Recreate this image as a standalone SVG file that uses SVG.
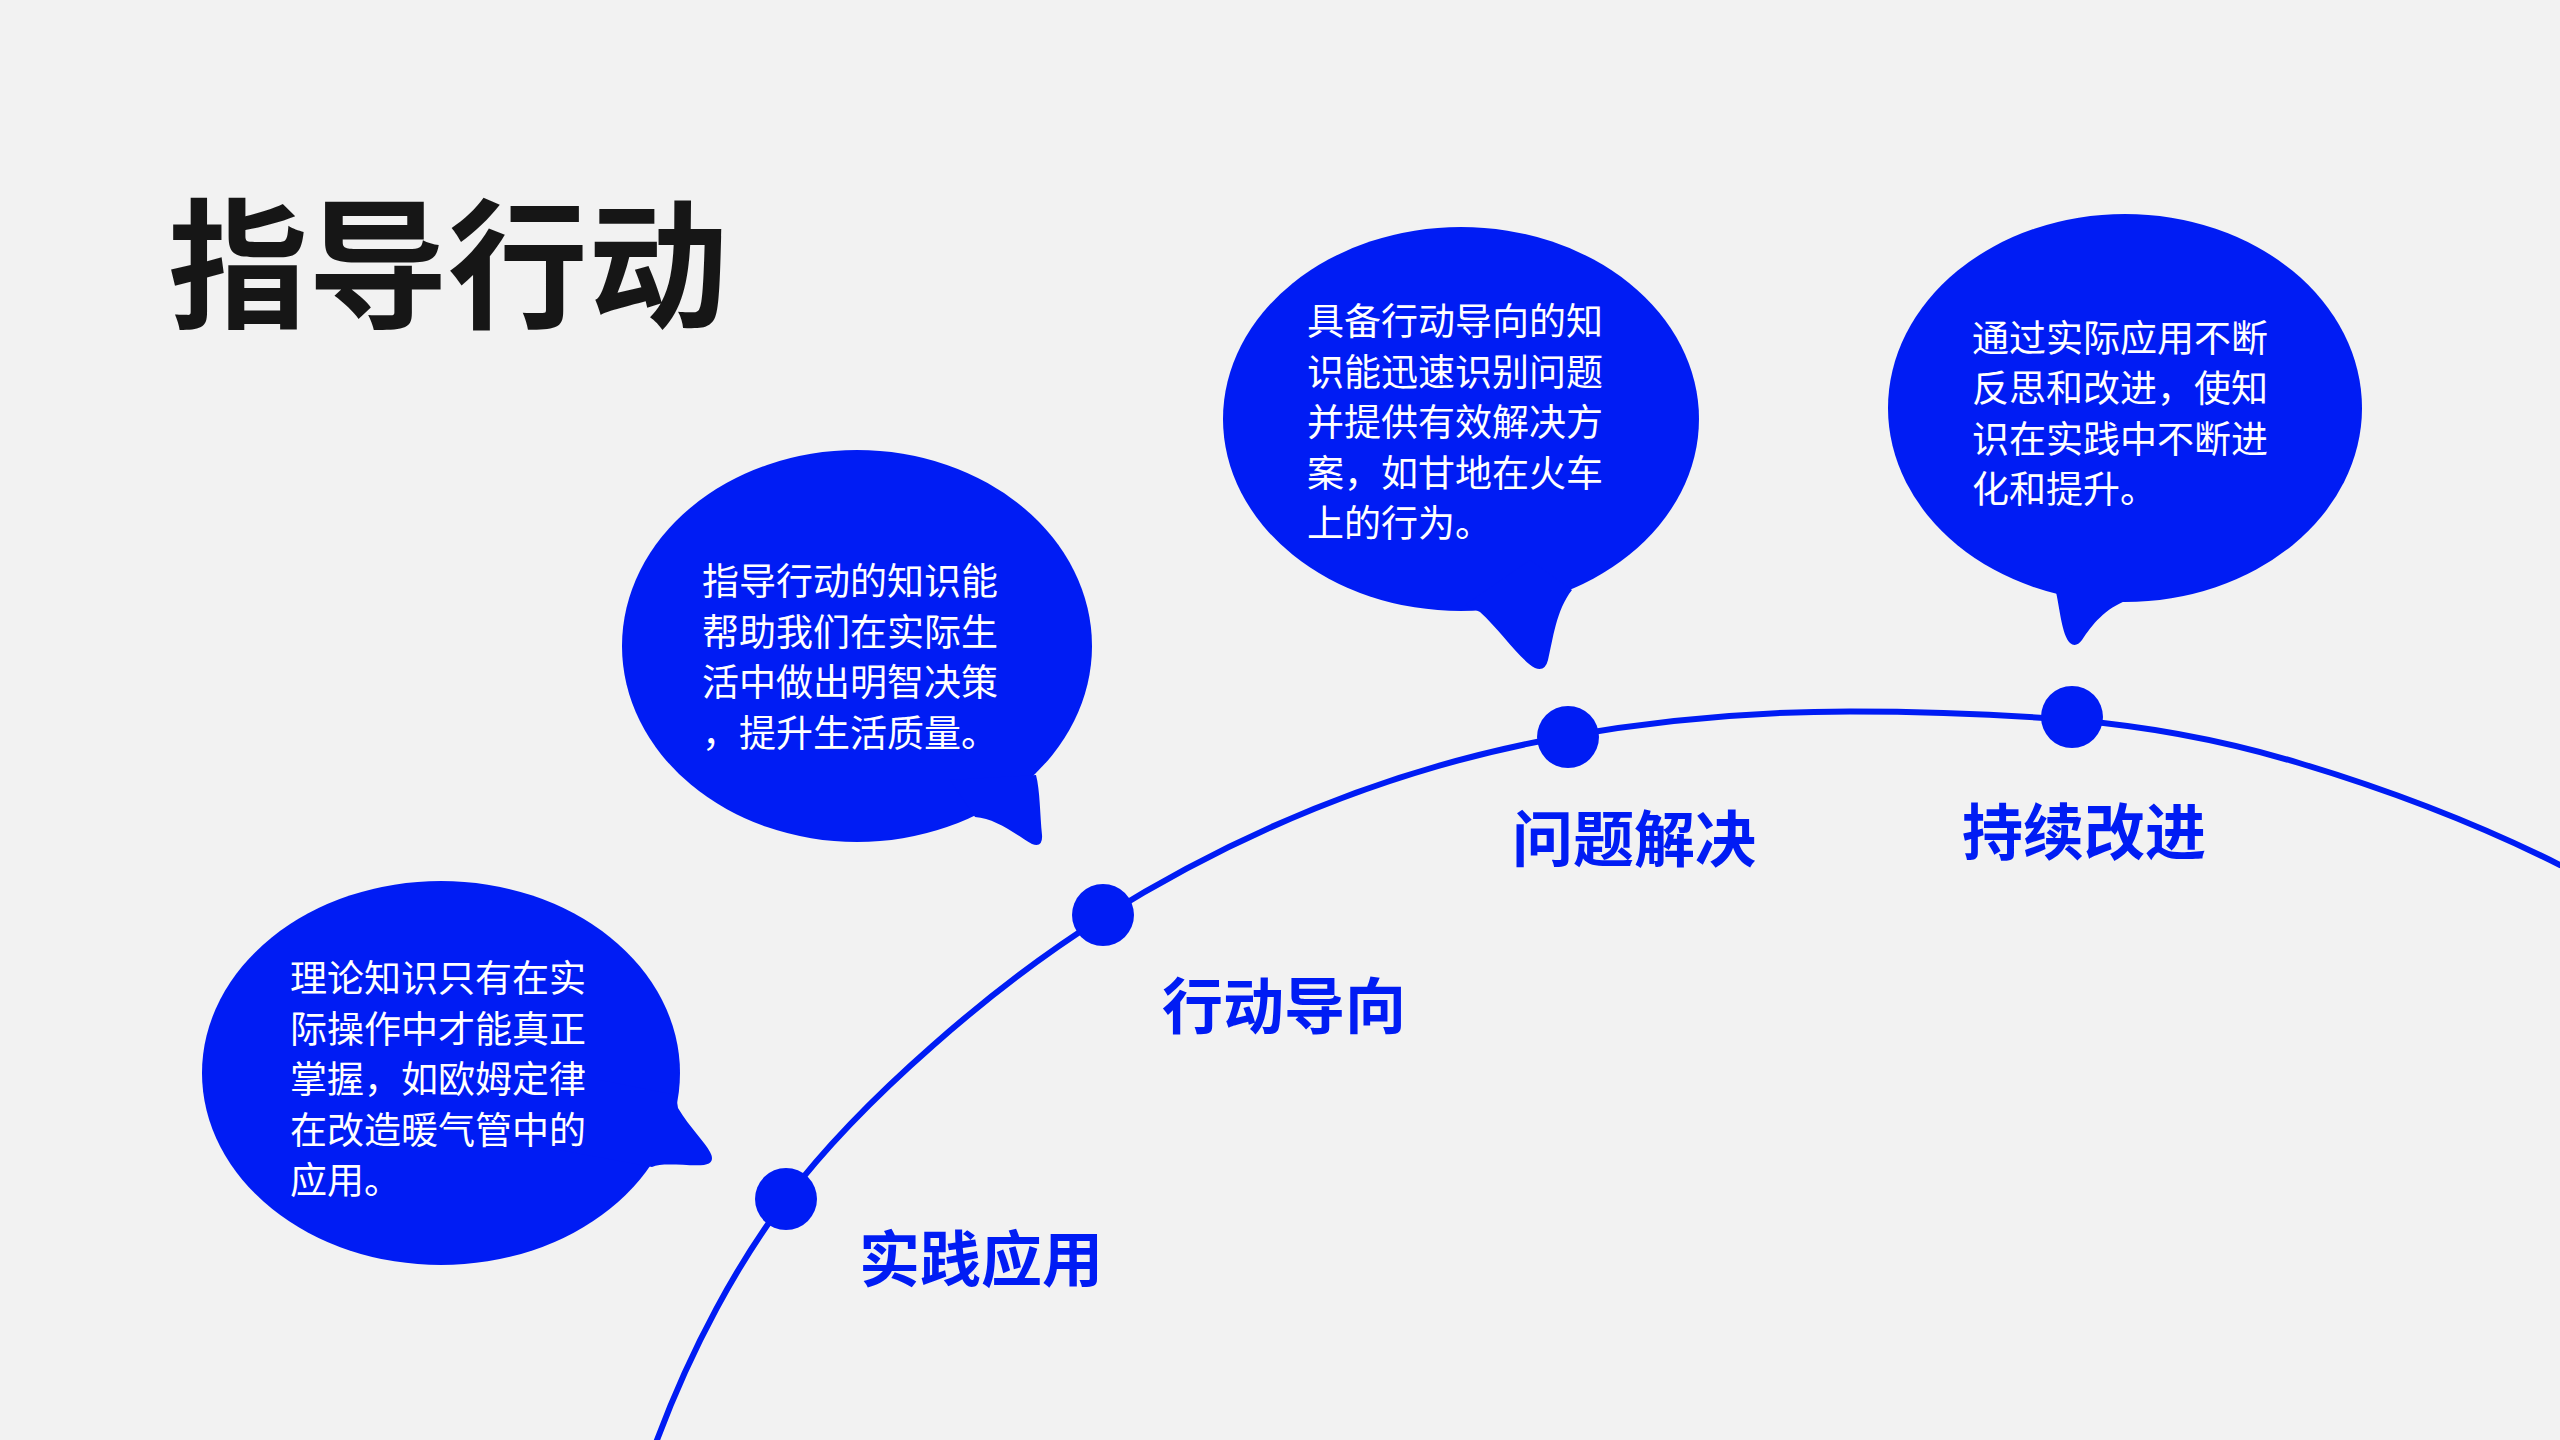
<svg xmlns="http://www.w3.org/2000/svg" width="2560" height="1440" viewBox="0 0 2560 1440">
  <style>
    .bg { fill: #F2F2F2; }
    .blue { fill: #001CF4; }
    .title { font-family: "Noto Sans CJK SC", "Noto Sans", sans-serif; font-size: 140px; font-weight: 700; fill: #161616; }
    .label { font-family: "Noto Sans CJK SC", "Noto Sans", sans-serif; font-size: 61px; font-weight: 700; fill: #001CF4; }
    .body { font-family: "Noto Sans CJK SC", "Noto Sans", sans-serif; font-size: 37px; font-weight: 400; fill: #FFFFFF; }
    .curve { fill: none; stroke: #001CF4; stroke-width: 6; }
  </style>
  <rect class="bg" x="0" y="0" width="2560" height="1440"/>

  <text class="title" x="168" y="317">指导行动</text>

  <g id="connectors">
    <path class="curve" d="M 650 1459 L 657 1440 C 692 1346.3, 737.9 1262.9, 786 1199 C 861.2 1099.2, 997 983.2, 1103 917 C 1258 820.1, 1413 763.1, 1568 736 C 1662 719.55, 1756 711.5, 1850 711.5 C 1923.7 711.5, 1997.3 714.1, 2071 720 C 2147 726.1, 2223 740.2, 2299 763 C 2386 789.1, 2473 821.5, 2560 865 L 2620 895"/>
  </g>

  <g id="node-shijian">
    <ellipse class="blue" cx="441" cy="1073" rx="239" ry="192"/>
    <path class="blue" d="M 676 1095 L 678 1108 C 690 1128, 705 1142, 710 1152 Q 716 1163, 704 1165 C 685 1166, 662 1162, 652 1167 L 560 1150 L 600 1080 Z"/>
    <text class="body">
      <tspan x="290" y="992">理论知识只有在实</tspan>
      <tspan x="290" y="1042.6">际操作中才能真正</tspan>
      <tspan x="290" y="1093.2">掌握，如欧姆定律</tspan>
      <tspan x="290" y="1143.8">在改造暖气管中的</tspan>
      <tspan x="290" y="1194.4">应用。</tspan>
    </text>
    <circle class="blue" cx="786" cy="1199" r="31"/>
    <text class="label" x="859" y="1282">实践应用</text>
  </g>

  <g id="node-xingdong">
    <ellipse class="blue" cx="857" cy="646" rx="235" ry="196"/>
    <path class="blue" d="M 1036 775 C 1040 790, 1040 815, 1042 835 Q 1043 848, 1032 844 C 1015 834, 995 818, 975 817 L 950 780 Z"/>
    <text class="body">
      <tspan x="702" y="595">指导行动的知识能</tspan>
      <tspan x="702" y="645.5">帮助我们在实际生</tspan>
      <tspan x="702" y="696">活中做出明智决策</tspan>
      <tspan x="702" y="746.5">，提升生活质量。</tspan>
    </text>
    <circle class="blue" cx="1103" cy="915" r="31"/>
    <text class="label" x="1162" y="1029">行动导向</text>
  </g>

  <g id="node-wenti">
    <ellipse class="blue" cx="1461" cy="419" rx="238" ry="192"/>
    <path class="blue" d="M 1465 605 L 1480 612 C 1500 630, 1520 660, 1535 668 Q 1545 672, 1548 660 C 1553 640, 1556 610, 1572 590 L 1530 560 Z"/>
    <text class="body">
      <tspan x="1307" y="335">具备行动导向的知</tspan>
      <tspan x="1307" y="385.5">识能迅速识别问题</tspan>
      <tspan x="1307" y="436">并提供有效解决方</tspan>
      <tspan x="1307" y="486.5">案，如甘地在火车</tspan>
      <tspan x="1307" y="537">上的行为。</tspan>
    </text>
    <circle class="blue" cx="1568" cy="737" r="31"/>
    <text class="label" x="1512" y="862">问题解决</text>
  </g>

  <g id="node-chixu">
    <ellipse class="blue" cx="2125" cy="408" rx="237" ry="194"/>
    <path class="blue" d="M 2050 590 L 2056 592 C 2060 610, 2062 635, 2070 643 Q 2076 648, 2082 640 C 2092 625, 2105 608, 2128 600 L 2090 560 Z"/>
    <text class="body">
      <tspan x="1972" y="351.5">通过实际应用不断</tspan>
      <tspan x="1972" y="402">反思和改进，使知</tspan>
      <tspan x="1972" y="452.5">识在实践中不断进</tspan>
      <tspan x="1972" y="503">化和提升。</tspan>
    </text>
    <circle class="blue" cx="2072" cy="717" r="31"/>
    <text class="label" x="1962" y="855">持续改进</text>
  </g>
</svg>
